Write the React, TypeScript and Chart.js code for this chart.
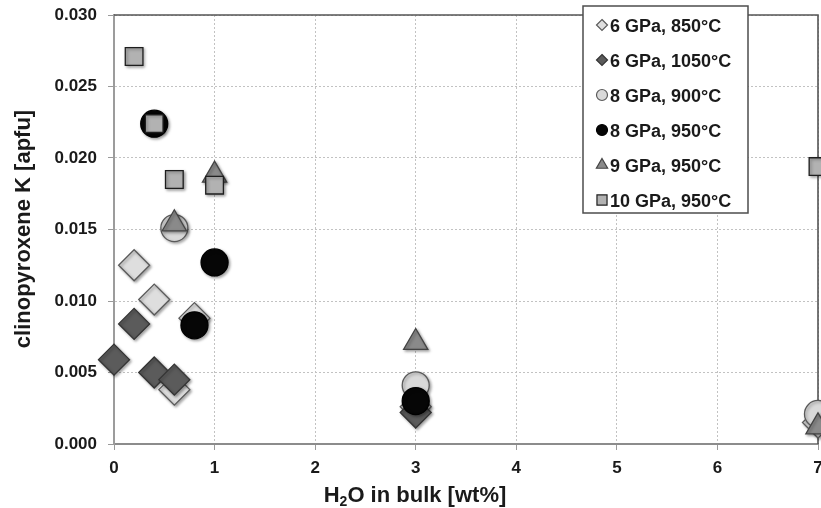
import { useEffect, useRef } from 'react';
import { Chart, registerables } from 'chart.js';

Chart.register(...registerables);

const FONT = '"Liberation Sans", Arial, Helvetica, sans-serif';

// H2O in bulk [wt%] and clinopyroxene K [apfu] per experimental series
const water6gpa850 = [0.2, 0.4, 0.6, 0.8, 3, 7];
const potassium6gpa850 = [0.0125, 0.0101, 0.0038, 0.0088, 0.0026, 0.0015];

const water6gpa1050 = [0, 0.2, 0.4, 0.6, 3];
const potassium6gpa1050 = [0.0059, 0.0084, 0.005, 0.0045, 0.0022];

const water8gpa900 = [0.6, 3, 7];
const potassium8gpa900 = [0.0151, 0.0041, 0.0021];

const water8gpa950 = [0.4, 0.8, 1, 3];
const potassium8gpa950 = [0.0224, 0.0083, 0.0127, 0.003];

const water9gpa950 = [0.6, 1, 3, 7];
const potassium9gpa950 = [0.0154, 0.0188, 0.0071, 0.0012];

const water10gpa950 = [0.2, 0.4, 0.6, 1, 7];
const potassium10gpa950 = [0.0271, 0.0224, 0.0185, 0.0181, 0.0194];

const seriesLabels = [
  '6 GPa, 850°C',
  '6 GPa, 1050°C',
  '8 GPa, 900°C',
  '8 GPa, 950°C',
  '9 GPa, 950°C',
  '10 GPa, 950°C',
];

const xTickValues = [0, 1, 2, 3, 4, 5, 6, 7];
const yTickValues = [0, 0.005, 0.01, 0.015, 0.02, 0.025, 0.03];

type Style = {
  shape: 'rectRot' | 'circle' | 'triangle' | 'rect';
  radius: number;
  legendRadius: number;
  fill: string;
  stroke: string;
};

const styles: Style[] = [
  { shape: 'rectRot', radius: 15.5, legendRadius: 5.5, fill: '#dedede', stroke: '#5a5a5a' },
  { shape: 'rectRot', radius: 15.5, legendRadius: 5.5, fill: '#5b5b5b', stroke: '#333333' },
  { shape: 'circle', radius: 13.5, legendRadius: 5.5, fill: '#d9d9d9', stroke: '#5a5a5a' },
  { shape: 'circle', radius: 13.5, legendRadius: 5.5, fill: '#060606', stroke: '#000000' },
  { shape: 'triangle', radius: 14, legendRadius: 6.5, fill: '#8a8a8a', stroke: '#444444' },
  { shape: 'rect', radius: 12.5, legendRadius: 7, fill: '#b2b2b2', stroke: '#1e1e1e' },
];

const seriesX = [water6gpa850, water6gpa1050, water8gpa900, water8gpa950, water9gpa950, water10gpa950];
const seriesK = [
  potassium6gpa850,
  potassium6gpa1050,
  potassium8gpa900,
  potassium8gpa950,
  potassium9gpa950,
  potassium10gpa950,
];

function marker(ctx: CanvasRenderingContext2D, s: Style, x: number, y: number, r: number) {
  ctx.beginPath();
  if (s.shape === 'circle') {
    ctx.arc(x, y, r, 0, Math.PI * 2);
  } else if (s.shape === 'rectRot') {
    ctx.moveTo(x, y - r);
    ctx.lineTo(x + r, y);
    ctx.lineTo(x, y + r);
    ctx.lineTo(x - r, y);
  } else if (s.shape === 'triangle') {
    ctx.moveTo(x, y - r);
    ctx.lineTo(x + r * 0.866, y + r * 0.5);
    ctx.lineTo(x - r * 0.866, y + r * 0.5);
  } else {
    const h = r * 0.72;
    ctx.rect(x - h, y - h, 2 * h, 2 * h);
  }
  ctx.closePath();
  ctx.fillStyle = s.fill;
  ctx.fill();
  ctx.lineWidth = 1.2;
  ctx.strokeStyle = s.stroke;
  ctx.stroke();
}

// keep the plot area fixed: no extra room reserved for overhanging tick labels
function fixScalePadding(scale: any) {
  scale.paddingTop = 0;
  scale.paddingBottom = 0;
  scale.paddingLeft = 0;
  scale.paddingRight = 0;
}

const decorations = {
  id: 'decorations',
  beforeDatasetsDraw(chart: any) {
    const { ctx, chartArea: a } = chart;
    // top and right frame of the plot area
    ctx.save();
    ctx.strokeStyle = '#555555';
    ctx.lineWidth = 1.6;
    ctx.beginPath();
    ctx.moveTo(a.left, a.top);
    ctx.lineTo(a.right, a.top);
    ctx.lineTo(a.right, a.bottom);
    ctx.stroke();
    ctx.restore();
    // soft drop shadow under the markers
    ctx.save();
    ctx.shadowColor = 'rgba(0,0,0,0.35)';
    ctx.shadowBlur = 3;
    ctx.shadowOffsetX = 1.5;
    ctx.shadowOffsetY = 1.5;
  },
  afterDatasetsDraw(chart: any) {
    const ctx: CanvasRenderingContext2D = chart.ctx;
    ctx.restore();

    // legend box
    ctx.save();
    const left = 583;
    const top = 6;
    const right = 748;
    const bottom = 213;
    ctx.fillStyle = '#ffffff';
    ctx.fillRect(left, top, right - left, bottom - top);
    ctx.strokeStyle = '#4d4d4d';
    ctx.lineWidth = 1.5;
    ctx.strokeRect(left, top, right - left, bottom - top);
    ctx.font = `bold 18px ${FONT}`;
    ctx.textBaseline = 'middle';
    ctx.textAlign = 'left';
    seriesLabels.forEach((label, i) => {
      const y = 25 + i * 35;
      marker(ctx, styles[i], 602, y, styles[i].legendRadius);
      ctx.fillStyle = '#1a1a1a';
      ctx.fillText(label, 610, y + 2);
    });
    ctx.restore();
  },
  afterDraw(chart: any) {
    const ctx: CanvasRenderingContext2D = chart.ctx;
    ctx.save();
    ctx.fillStyle = '#1a1a1a';
    // y-axis title
    ctx.font = `bold 22px ${FONT}`;
    ctx.textAlign = 'center';
    ctx.textBaseline = 'middle';
    ctx.translate(24, 229);
    ctx.rotate(-Math.PI / 2);
    ctx.fillText('clinopyroxene K [apfu]', 0, 0);
    ctx.restore();

    // x-axis title with subscript
    ctx.save();
    ctx.fillStyle = '#1a1a1a';
    ctx.textBaseline = 'alphabetic';
    ctx.textAlign = 'left';
    const big = `bold 22px ${FONT}`;
    const small = `bold 14px ${FONT}`;
    ctx.font = big;
    const wH = ctx.measureText('H').width;
    const rest = 'O in bulk [wt%]';
    const wRest = ctx.measureText(rest).width;
    ctx.font = small;
    const w2 = ctx.measureText('2').width;
    const total = wH + w2 + wRest;
    let x = 415 - total / 2;
    const base = 502;
    ctx.font = big;
    ctx.fillText('H', x, base);
    x += wH;
    ctx.font = small;
    ctx.fillText('2', x, base + 4);
    x += w2;
    ctx.font = big;
    ctx.fillText(rest, x, base);
    ctx.restore();
  },
};

export default function App() {
  const ref = useRef<HTMLCanvasElement>(null);

  useEffect(() => {
    if (!ref.current) return;
    const datasets = seriesLabels.map((label, i) => ({
      label,
      data: seriesX[i].map((x, j) => ({ x, y: seriesK[i][j] })),
      pointStyle: styles[i].shape,
      pointRadius: styles[i].radius,
      pointHoverRadius: styles[i].radius,
      backgroundColor: styles[i].fill,
      borderColor: styles[i].stroke,
      borderWidth: 1.3,
      showLine: false,
      clip: false as const,
      order: seriesLabels.length - 1 - i,
    }));

    const tickFont = { family: FONT, size: 17, weight: 'bold' as const };

    const chart = new Chart(ref.current, {
      type: 'scatter',
      data: { datasets },
      options: {
        animation: false,
        responsive: true,
        maintainAspectRatio: false,
        layout: { autoPadding: false, padding: { top: 15, right: 3, left: 0, bottom: 0 } },
        plugins: {
          legend: { display: false },
          tooltip: { enabled: false },
        },
        events: [],
        scales: {
          x: {
            type: 'linear',
            min: 0,
            max: 7,
            afterFit: (scale: any) => {
              scale.height = 64;
              fixScalePadding(scale);
            },
            afterBuildTicks: (scale: any) => {
              scale.ticks = xTickValues.map((value) => ({ value }));
            },
            ticks: {
              font: tickFont,
              color: '#1a1a1a',
              padding: 8,
              maxRotation: 0,
              callback: (v: any) => String(v),
            },
            grid: {
              color: '#c2c2c2',
              lineWidth: 1,
              tickLength: 6,
              tickColor: '#9a9a9a',
              tickWidth: 1,
              tickBorderDash: [],
            },
            border: { color: '#8c8c8c', width: 2, dash: [2, 2] },
          },
          y: {
            type: 'linear',
            min: 0,
            max: 0.03,
            afterFit: (scale: any) => {
              scale.width = 114;
              fixScalePadding(scale);
            },
            afterBuildTicks: (scale: any) => {
              scale.ticks = yTickValues.map((value) => ({ value }));
            },
            ticks: {
              font: tickFont,
              color: '#1a1a1a',
              padding: 11,
              callback: (v: any) => Number(v).toFixed(3),
            },
            grid: {
              color: '#c2c2c2',
              lineWidth: 1,
              tickLength: 6,
              tickColor: '#9a9a9a',
              tickWidth: 1,
              tickBorderDash: [],
            },
            border: { color: '#9c9c9c', width: 2, dash: [2, 2] },
          },
        },
      },
      plugins: [decorations],
    });

    return () => chart.destroy();
  }, []);

  return (
    <div style={{ position: 'absolute', left: 0, top: 0, width: 821, height: 508 }}>
      <canvas ref={ref} />
    </div>
  );
}
